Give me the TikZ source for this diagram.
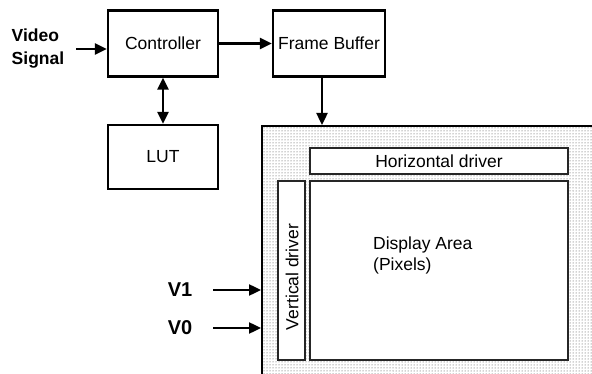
\documentclass[tikz,border=0pt]{standalone}
\usepackage{fontspec}
\setmainfont{Liberation Sans}
\usetikzlibrary{arrows.meta,patterns}

\tikzset{
  blockbox/.style={draw, line width=2.4pt, minimum width=110pt, minimum height=66pt,
    font=\fontsize{17.5}{19}\selectfont},
  drvbox/.style={draw=black!85, line width=1.4pt, fill=white, inner sep=0pt},
  sig/.style={-{Triangle[length=12pt,width=11pt]}, line width=2.4pt},
  bothsig/.style={{Triangle[length=12pt,width=11pt]}-{Triangle[length=12pt,width=11pt]}, line width=2.4pt},
  inlabel/.style={font=\fontsize{17.5}{21}\selectfont, inner sep=0pt},
  pinlabel/.style={font=\fontsize{20}{21}\selectfont\bfseries, inner sep=0pt}
}

\begin{document}
\begin{tikzpicture}[x=1pt,y=-1pt]
    % page
    \useasboundingbox (0,0) rectangle (592,374);
    \clip (0,0) rectangle (592,374);

    % blocks
    \node[blockbox] (ctrl) at (163,43.5) {Controller};
    \node[blockbox] (fb) at (329,43.5) [minimum width=112pt] {Frame Buffer};
    \node[blockbox] (lut) at (163,157) [minimum height=64pt] {LUT};
    \node[align=left, inner sep=0pt, font=\fontsize{17.5}{23}\selectfont\bfseries] (vsig) at (38,49) {Video\\Signal};

    % display panel
    \node[draw, line width=2.4pt, pattern=dots, pattern color=black!75, anchor=north west,
      minimum width=360pt, minimum height=270pt] (panel) at (261,125) {};
    \node[drvbox, minimum width=258pt, minimum height=26pt] (hdrv) at (439,161) {};
    \node[inlabel] at (hdrv) {Horizontal driver};
    \node[drvbox, minimum width=27pt, minimum height=179pt] (vdrv) at (291.5,270.5) {};
    \node[inlabel, rotate=90] at (292,277) {Vertical driver};
    \node[drvbox, minimum width=258pt, minimum height=179pt] (disp) at (439,270.5) {};
    \node[inlabel, align=left, anchor=west] (disptext) at (373,255) {Display Area\\(Pixels)};

    % pins
    \node[pinlabel] (v1) at (180,290) {V1};
    \node[pinlabel] (v0) at (180,328) {V0};

    % connections
    \coordinate (vin) at (76,49);
    \coordinate (fbout) at (322,76);
    \draw[sig] (vin) -- (vin -| ctrl.west);
    \draw[sig] (ctrl.east) -- (fb.west);
    \draw[bothsig] (ctrl.south) -- (lut.north);
    \draw[sig] (fbout) -- (fbout |- panel.north);
    \draw[sig] ([xshift=21pt]v1.east) -- (v1 -| panel.west);
    \draw[sig] ([xshift=21pt]v0.east) -- (v0 -| panel.west);
\end{tikzpicture}
\end{document}
